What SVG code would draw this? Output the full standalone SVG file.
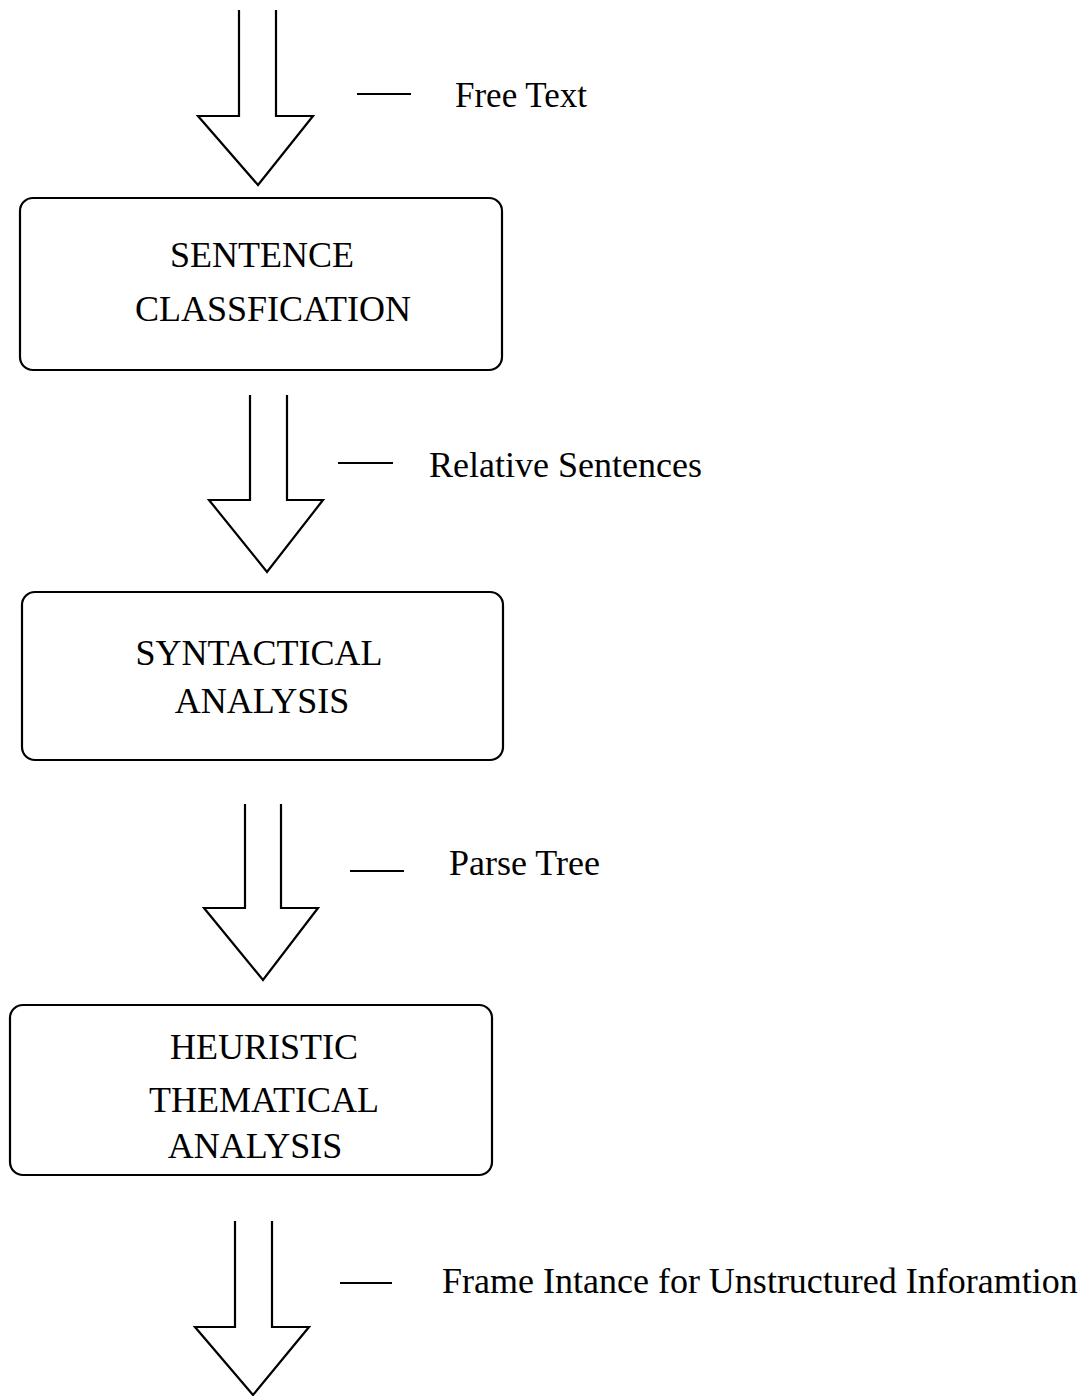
<svg xmlns="http://www.w3.org/2000/svg" width="1088" height="1396" viewBox="0 0 1088 1396">
<style>
.box{fill:#fff;stroke:#000;stroke-width:2.2}
.arr{fill:#fff;stroke:#000;stroke-width:2.2;stroke-linejoin:miter}
.dash{stroke:#000;stroke-width:2}
.t{font-family:"Liberation Serif","Times New Roman",serif;font-size:36px;fill:#000}
.c{text-anchor:middle}
</style>
<rect width="1088" height="1396" fill="#fff"/>
<g id="connectors">
<path class="arr" d="M239,10 L239,116 L198,116 L258,185 L313,116 L276,116 L276,10"/>
<path class="arr" d="M250,395 L250,500 L209,500 L267,572 L323,500 L287,500 L287,395"/>
<path class="arr" d="M245,804 L245,908 L204,908 L263,980 L318,908 L281,908 L281,804"/>
<path class="arr" d="M235,1221 L235,1327 L195,1327 L253,1395 L309,1327 L272,1327 L272,1221"/>
</g>
<g id="label-free-text">
<line class="dash" x1="357" y1="94" x2="411" y2="94"/>
<text class="t" x="455" y="107" style="font-size:35px">Free Text</text>
</g>
<g id="label-relative-sentences">
<line class="dash" x1="338" y1="463" x2="393" y2="463"/>
<text class="t" x="429" y="477">Relative Sentences</text>
</g>
<g id="label-parse-tree">
<line class="dash" x1="350" y1="871" x2="404" y2="871"/>
<text class="t" x="449" y="875">Parse Tree</text>
</g>
<g id="label-frame-instance">
<line class="dash" x1="340" y1="1283" x2="392" y2="1283"/>
<text class="t" x="442" y="1293">Frame Intance for Unstructured Inforamtion</text>
</g>
<g id="node-sentence-classification">
<rect class="box" x="20" y="198" width="482" height="172" rx="13"/>
<text class="t c" x="262" y="267">SENTENCE</text>
<text class="t c" x="273" y="321">CLASSFICATION</text>
</g>
<g id="node-syntactical-analysis">
<rect class="box" x="22" y="592" width="481" height="168" rx="13"/>
<text class="t c" x="259" y="665">SYNTACTICAL</text>
<text class="t c" x="262" y="713">ANALYSIS</text>
</g>
<g id="node-heuristic-thematical-analysis">
<rect class="box" x="10" y="1005" width="482" height="170" rx="13"/>
<text class="t c" x="264" y="1059">HEURISTIC</text>
<text class="t c" x="264" y="1112">THEMATICAL</text>
<text class="t c" x="255" y="1158">ANALYSIS</text>
</g>
</svg>
